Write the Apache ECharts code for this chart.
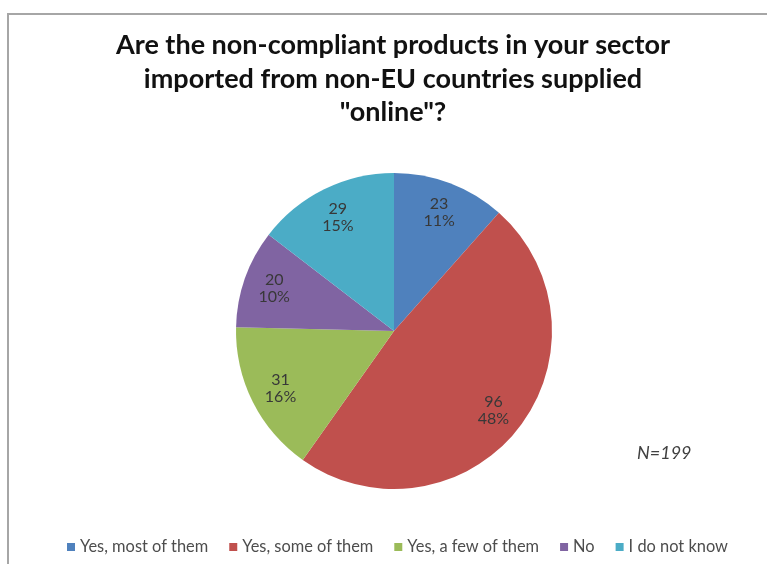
<!DOCTYPE html>
<html>
<head>
<meta charset="utf-8">
<script src="https://cdn.jsdelivr.net/npm/echarts@6/dist/echarts.min.js"></script>
<style>
html,body{margin:0;padding:0;background:#fff;}
#frame{position:absolute;left:7px;top:13px;width:800px;height:600px;border-left:2px solid #a6a6a6;border-top:2px solid #a6a6a6;}
#chart{position:absolute;left:0;top:0;width:767px;height:564px;}
</style>
</head>
<body>
<div id="frame"></div>
<div id="chart"></div>
<script>
const categories = ["Yes, most of them", "Yes, some of them", "Yes, a few of them", "No", "I do not know"];
const values = [23, 96, 31, 20, 29];
const percentLabels = ["11%", "48%", "16%", "10%", "15%"];
const colors = ["#4F81BD", "#C0504D", "#9BBB59", "#8064A2", "#4BACC6"];
const titleText = 'Are the non-compliant products in your sector\nimported from non-EU countries supplied\n"online"?';
const noteText = "N=199";

const data = categories.map((c, i) => ({ name: c, value: values[i], itemStyle: { color: colors[i] } }));
const font = "Lato, 'Open Sans', sans-serif";

const chart = echarts.init(document.getElementById('chart'), null, { renderer: 'canvas' });
chart.setOption({
  backgroundColor: 'transparent',
  animation: false,
  title: {
    text: titleText,
    top: 24,
    left: 388,
    textAlign: 'center',
    textStyle: { fontFamily: font, fontWeight: 'bold', fontSize: 27, lineHeight: 33.5, color: '#111' }
  },
  legend: {
    left: 62,
    top: 534,
    itemWidth: 8,
    itemHeight: 8,
    itemGap: 21,
    icon: 'rect',
    textStyle: { fontFamily: font, fontSize: 16.4, color: '#4d4d4d' },
    data: categories
  },
  graphic: [{
    type: 'text',
    left: 637,
    top: 444,
    style: { text: noteText, font: "italic 18px " + font, fill: '#404040' }
  }],
  series: [{
    type: 'pie',
    center: [394, 331],
    radius: [0, 158],
    startAngle: 90,
    clockwise: true,
    label: { show: false },
    labelLine: { show: false },
    itemStyle: { borderWidth: 0 },
    data: data
  }, {
    type: 'pie',
    center: [394, 331],
    radius: [90, 158],
    startAngle: 90,
    clockwise: true,
    silent: true,
    itemStyle: { color: 'rgba(0,0,0,0)', borderWidth: 0 },
    label: {
      show: true,
      position: 'inside',
      formatter: p => p.value + '\n' + percentLabels[p.dataIndex],
      fontFamily: font,
      fontSize: 16,
      lineHeight: 17,
      color: '#383838'
    },
    labelLine: { show: false },
    data: categories.map((c, i) => ({ name: c, value: values[i] }))
  }]
});
</script>
</body>
</html>
